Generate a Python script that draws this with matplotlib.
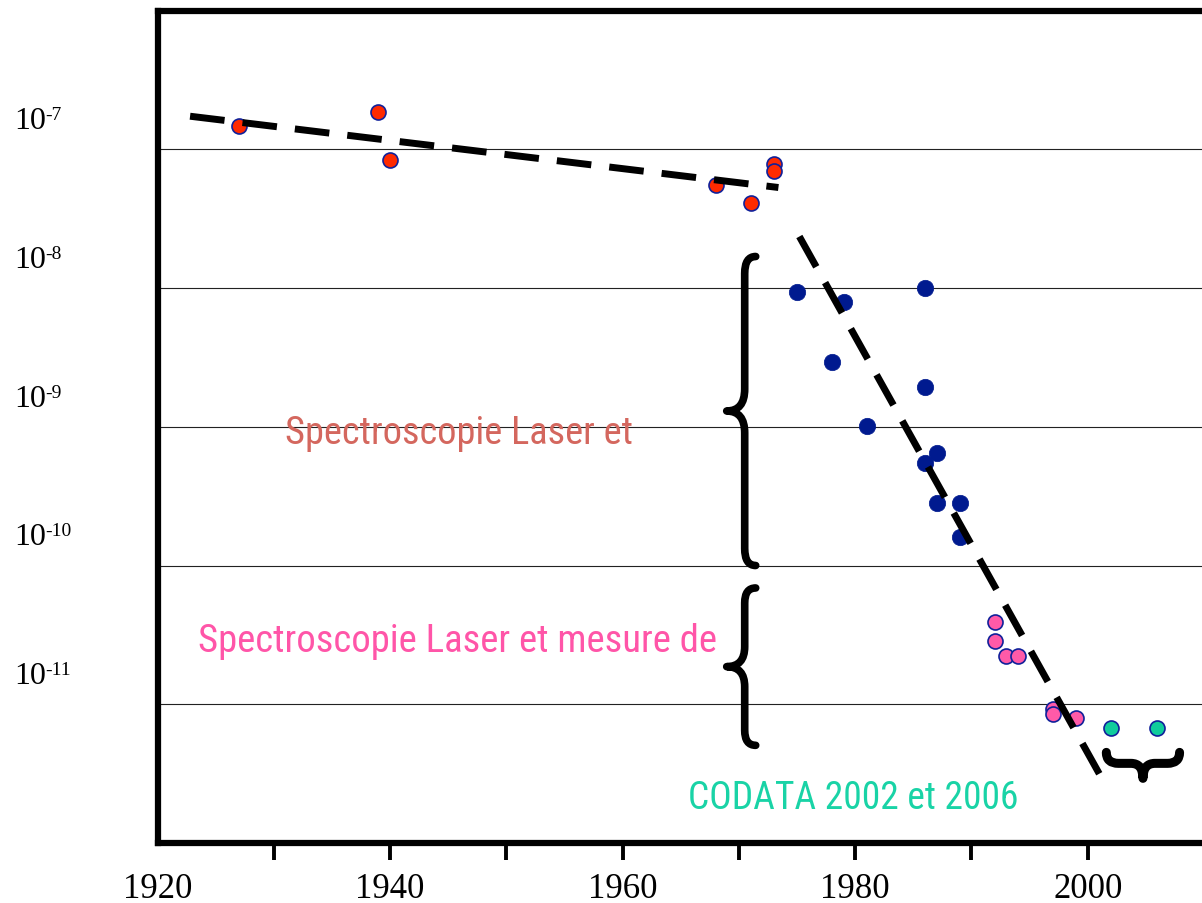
import numpy as np
import matplotlib
matplotlib.use("Agg")
import matplotlib.pyplot as plt
from matplotlib import font_manager
from matplotlib.path import Path
from matplotlib.patches import PathPatch
from matplotlib.ticker import NullLocator
from matplotlib.transforms import IdentityTransform, blended_transform_factory, offset_copy

# ── Data: relative uncertainty vs year ─────────────────────
early_years = [1927, 1939, 1940, 1968, 1971, 1973, 1973]
early_unc   = [1.47e-7, 1.85e-7, 8.3e-8, 5.5e-8, 4.1e-8, 7.8e-8, 7.0e-8]

laser_years = [1975, 1978, 1979, 1981, 1986, 1986, 1986, 1987, 1987, 1989, 1989]
laser_unc   = [9.3e-9, 2.95e-9, 7.9e-9, 1.02e-9, 1.0e-8, 1.92e-9, 5.5e-10,
               6.5e-10, 2.8e-10, 2.8e-10, 1.6e-10]

freq_years = [1992, 1992, 1993, 1994, 1997, 1997, 1999]
freq_unc   = [3.9e-11, 2.86e-11, 2.23e-11, 2.23e-11, 9.3e-12, 8.5e-12, 7.9e-12]

codata_years = [2002, 2006]
codata_unc   = [6.7e-12, 6.7e-12]

# dashed trend lines (end points)
trend_old_years = [1922.8, 1973.4]
trend_old_unc   = [1.73e-7, 5.3e-8]
trend_new_years = [1975.2, 2001.6]
trend_new_unc   = [2.35e-8, 2.56e-12]

decades      = [1e-7, 1e-8, 1e-9, 1e-10, 1e-11]
decade_exps  = ["-7", "-8", "-9", "-10", "-11"]
year_ticks   = list(range(1920, 2010, 10))
year_labels  = [str(y) if y % 20 == 0 else "" for y in year_ticks]

# ── Fonts ──────────────────────────────────────────────────
plt.rcParams["font.family"] = ["Liberation Serif", "DejaVu Serif"]

def find_narrow_font():
    names = {f.name for f in font_manager.fontManager.ttflist}
    for cand in ["Liberation Sans Narrow", "Roboto Condensed", "Open Sans Condensed",
                 "Noto Sans Condensed", "DejaVu Sans Condensed"]:
        if cand in names:
            return font_manager.FontProperties(family=cand)
    for f in font_manager.fontManager.ttflist:
        if "condensed" in str(f.stretch) and f.weight in (400, "normal", "regular") \
                and f.style == "normal":
            return font_manager.FontProperties(fname=f.fname)
    return font_manager.FontProperties(family="DejaVu Sans")

narrow = find_narrow_font()

# ── Figure ─────────────────────────────────────────────────
W, H = 1202, 904
fig = plt.figure(figsize=(W / 100, H / 100), dpi=100)
ax = fig.add_axes([157.5 / W, 1 - 844 / H, (1204 - 157.5) / W, (844 - 11.5) / H])

ax.set_xlim(1920, 2010)
ax.set_yscale("log")
ax.set_ylim(1e-12, 1e-6)

for side in ["left", "bottom", "top"]:
    ax.spines[side].set_linewidth(4.5)
    ax.spines[side].set_color("black")
ax.spines["right"].set_visible(False)

ax.set_yticks(decades)
ax.yaxis.set_minor_locator(NullLocator())
ax.tick_params(axis="y", which="both", left=False, labelleft=False)
ax.grid(axis="y", color="#222222", linewidth=0.8)
ax.set_axisbelow(True)

ax.set_xticks(year_ticks, year_labels)
ax.xaxis.set_minor_locator(NullLocator())
ax.tick_params(axis="x", direction="out", length=12, width=2.8, pad=9, labelsize=25)
# the first tick would sit under the corner of the frame
ax.xaxis.get_major_ticks()[0].tick1line.set_visible(False)

# decade labels sit a little above their grid lines
lab_tr = blended_transform_factory(fig.transFigure, ax.transData)
for val, exp in zip(decades, decade_exps):
    ax.text(14 / W, val, "10", fontsize=23, ha="left", va="baseline",
            transform=offset_copy(lab_tr, fig=fig, y=21 * 0.72, units="points"),
            clip_on=False)
    ax.text(45 / W, val, exp, fontsize=14, ha="left", va="baseline",
            transform=offset_copy(lab_tr, fig=fig, y=30 * 0.72, units="points"),
            clip_on=False)

# ── Points ─────────────────────────────────────────────────
edge = "#10209a"
ax.plot(early_years, early_unc, "o", ms=10.8, mfc="#ff2a00", mec=edge, mew=1.2, zorder=3)
ax.plot(laser_years, laser_unc, "o", ms=11.8, mfc="#001a8f", mec="#001a8f", mew=0.5, zorder=3)
ax.plot(freq_years, freq_unc, "o", ms=10.8, mfc="#ff5aa8", mec=edge, mew=1.2, zorder=3)
ax.plot(codata_years, codata_unc, "o", ms=10.8, mfc="#10cc9c", mec=edge, mew=1.2, zorder=3)

# ── Trend lines ────────────────────────────────────────────
for xs, ys in [(trend_old_years, trend_old_unc), (trend_new_years, trend_new_unc)]:
    ax.plot(xs, ys, color="black", linewidth=5, dashes=(5, 2.6),
            dash_capstyle="butt", zorder=4)

# ── Braces ─────────────────────────────────────────────────
def draw_brace(p_start, p_end, depth, curl, r_end, r_tip, lw):
    # built in pixel space so the curls keep their shape on the log axis
    a = ax.transData.transform(p_start)
    b = ax.transData.transform(p_end)
    L = np.hypot(*(b - a))
    u = (b - a) / L
    n = np.array([u[1], -u[0]])

    def P(s, t):
        return a + s * u + t * n

    verts = [P(0, -curl), P(0, 0), P(r_end, 0),
             P(L / 2 - r_tip, 0), P(L / 2, 0), P(L / 2, depth),
             P(L / 2, 0), P(L / 2 + r_tip, 0),
             P(L - r_end, 0), P(L, 0), P(L, -curl)]
    codes = [Path.MOVETO, Path.CURVE3, Path.CURVE3,
             Path.LINETO, Path.CURVE3, Path.CURVE3,
             Path.CURVE3, Path.CURVE3,
             Path.LINETO, Path.CURVE3, Path.CURVE3]
    ax.add_patch(PathPatch(Path(verts, codes), fill=False, edgecolor="black",
                           linewidth=lw, capstyle="round", joinstyle="round",
                           transform=IdentityTransform(), clip_on=False, zorder=5))

draw_brace((1970.5, 10 ** -7.773), (1970.5, 1e-10), 18, 11, 17, 22, 5.5)
draw_brace((1970.5, 10 ** -10.162), (1970.5, 10 ** -11.296), 18, 11, 15, 20, 5.5)
draw_brace((2001.6, 10 ** -11.426), (2007.9, 10 ** -11.426), 15, 11, 12, 12, 6.5)

# ── Annotations ────────────────────────────────────────────
notes = [
    ("Spectroscopie Laser et", 1931.0, 10 ** -9.116, "#d4675e", 348),
    ("Spectroscopie Laser et mesure de", 1923.5, 10 ** -10.617, "#ff55a8", 520),
    ("CODATA 2002 et 2006", 1965.6, 10 ** -11.751, "#19d3a6", 330),
]
texts = []
for label, x, y, color, width in notes:
    t = ax.text(x, y, label, color=color, fontproperties=narrow, fontsize=30,
                ha="left", va="baseline", zorder=6)
    texts.append((t, width))

# scale each label to its intended width
renderer = fig.canvas.get_renderer()
for t, width in texts:
    bb = t.get_window_extent(renderer)
    t.set_fontsize(30 * width / bb.width)

fig.savefig("out.png", dpi=100)
